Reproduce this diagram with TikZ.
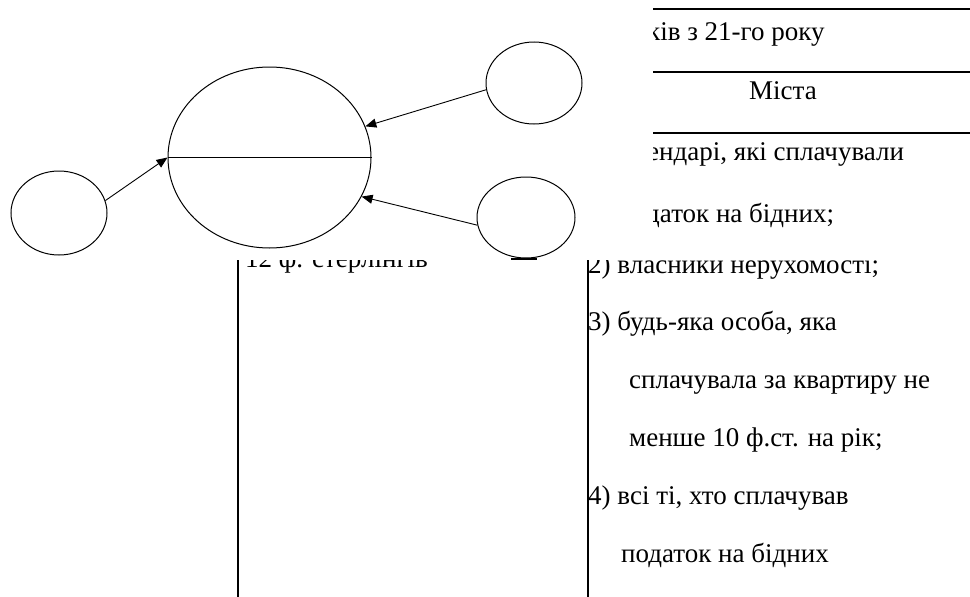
\documentclass[tikz,border=0pt]{standalone}
\usepackage{fontspec}
\setmainfont{Liberation Serif}
\usetikzlibrary{shapes.geometric,arrows.meta}
\begin{document}
\begin{tikzpicture}[x=1pt,y=-1pt,
  bubble/.style={draw,ellipse,line width=1pt,inner sep=0pt,fill=white},
  arr/.style={line width=0.9pt,-{Triangle[length=11pt,width=9pt]}},
  tblline/.style={line width=2.2pt},
  txt/.style={anchor=base west,inner sep=0pt,font=\fontsize{27}{32}\selectfont},
  ctxt/.style={anchor=base,inner sep=0pt,font=\fontsize{27}{32}\selectfont}]
\useasboundingbox (0,0) rectangle (970,597);
% upper right part of the table
\begin{scope}
  \clip (653,0) rectangle (970,258);
  \draw[tblline] (653,9) -- (970,9);
  \draw[tblline] (653,72) -- (970,72);
  \draw[tblline] (653,133) -- (970,133);
  \node[txt] (t1) at (647,40) {ків з 21-го року};
  \node[ctxt] (t2) at (783,99) {Міста};
  \node[txt] (t3) at (647,160) {ендарі, які сплачували};
  \node[txt] (t4) at (646,222) {даток на бідних;};
\end{scope}
% lower part of the table
\begin{scope}
  \clip (0,260) rectangle (970,597);
  \draw[tblline] (238,250) -- (238,597);
  \draw[tblline] (588,250) -- (588,597);
  \node[txt] (l1) at (245,267) {12 ф. стерлінгів};
  \node[txt] (r1) at (588,273) {2) власники нерухомості;};
\end{scope}
\draw[tblline] (511,259) -- (537,259);
\node[txt] (r2) at (588,330) {3) будь-яка особа, яка};
\node[txt] (r3) at (629,388) {сплачувала за квартиру не};
\node[txt] (r4) at (629,446) {менше 10 ф.ст. на рік;};
\node[txt] (r5) at (588,504) {4) всі ті, хто сплачував};
\node[txt] (r6) at (621,562) {податок на бідних};
% diagram
\node[bubble,minimum width=96pt,minimum height=84pt] (L) at (59,213) {};
\node[bubble,minimum width=203pt,minimum height=181pt] (C) at (269.5,157.5) {};
\node[bubble,minimum width=96pt,minimum height=82pt] (TR) at (534,83) {};
\node[bubble,minimum width=98pt,minimum height=81pt] (BR) at (526,217.5) {};
\draw[line width=1.2pt] (C.west) -- (C.east);
\draw[arr] (L.15) -- (C.west);
\draw[arr] (TR.188) -- (C.18);
\draw[arr] (BR.189) -- (C.-23);
\end{tikzpicture}
\end{document}
